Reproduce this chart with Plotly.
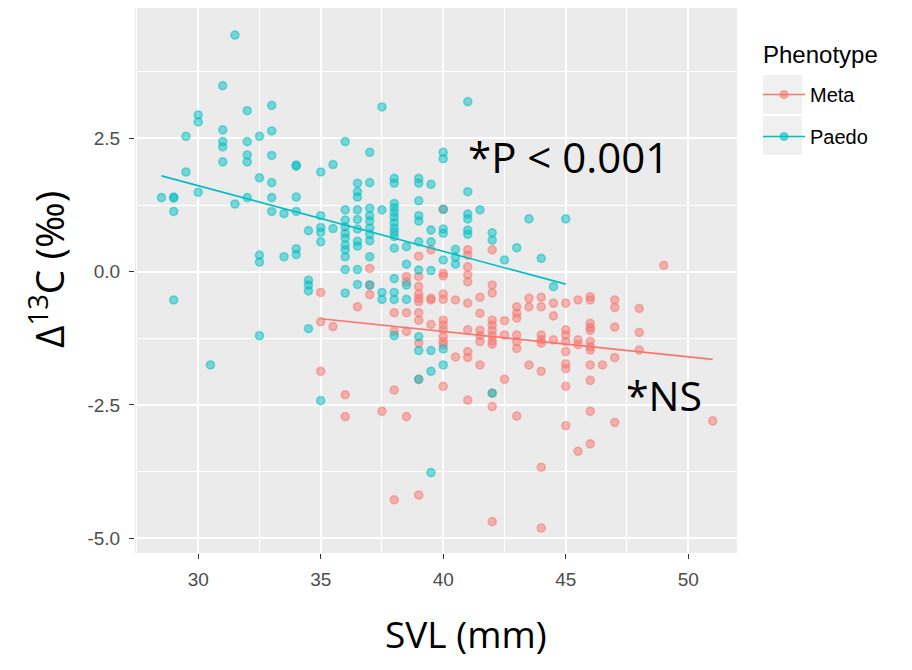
import numpy as np
import plotly.graph_objects as go

# ---- data ----
paedo_svl_cols = [28.5, 29, 29.5, 30, 30.5, 31, 31.5, 32, 32.5, 33, 33.5, 34, 34.5, 35, 35.5,
                  36, 36.5, 37, 37.5, 38, 38.5, 39, 39.5, 40, 40.5, 41, 41.5, 42, 42.5, 43,
                  43.5, 44, 44.5, 45]
paedo_d13c = [
    [1.39],
    [1.40, 1.38, 1.13, -0.53],
    [2.54, 1.87],
    [2.94, 2.81, 1.49],
    [-1.75],
    [3.49, 2.66, 2.44, 2.34, 2.06],
    [4.44, 1.27],
    [3.02, 2.44, 2.19, 2.06, 1.39],
    [2.54, 1.76, 0.31, 0.18, -1.20],
    [3.12, 2.64, 2.18, 1.67, 1.39, 1.13],
    [1.09, 0.28],
    [2.00, 1.98, 1.40, 1.13, 0.43, 0.32],
    [0.77, -0.16, -0.25, -0.36, -1.07],
    [1.87, 1.05, 0.83, 0.74, 0.56, -2.42],
    [2.01, 0.81],
    [2.44, 1.16, 0.97, 0.84, 0.72, 0.63, 0.50, 0.41, 0.28, 0.04, -0.40],
    [1.66, 1.50, 1.40, 1.16, 0.98, 0.80, 0.57, 0.48, 0.04, -0.24],
    [2.24, 1.67, 1.19, 1.05, 0.95, 0.82, 0.70, 0.58, 0.28, -0.25],
    [3.09, 1.16, -0.39, -0.52],
    [1.75, 1.66, 1.28, 1.20, 1.11, 1.02, 0.92, 0.82, 0.74, 0.66, 0.44, -0.13, -0.39, -0.52, -1.20],
    [0.47, 0.14, -0.25, -0.52],
    [1.75, 1.66, 1.33, 1.05, 0.95, 0.56, 0.03, -1.22, -1.48, -2.02],
    [1.64, 0.78, 0.56, 0.02, -1.48, -1.87, -3.77],
    [2.24, 2.12, 1.17, 0.80, 0.72, 0.22, -1.45, -1.75],
    [0.42, 0.27, 0.14],
    [3.19, 1.50, 1.08, 0.99, 0.78, 0.70],
    [1.16],
    [0.73, 0.59, -2.28],
    [0.22],
    [0.45],
    [0.99],
    [0.25],
    [-0.28],
    [0.99],
]

meta_svl_cols = [35, 35.5, 36, 36.5, 37, 37.5, 38, 38.5, 39, 39.5, 40, 40.5, 41, 41.5, 42,
                 42.5, 43, 43.5, 44, 44.5, 45, 45.5, 46, 46.5, 47, 48, 49, 51]
meta_d13c = [
    [-0.39, -0.94, -1.87],
    [-1.03],
    [-2.31, -2.72],
    [-0.66],
    [0.06, -0.25, -0.43],
    [-2.62],
    [-0.77, -1.12, -2.22, -4.28],
    [-0.09, -0.19, -0.77, -1.12, -2.72],
    [0.29, -0.09, -0.28, -0.42, -0.50, -0.56, -0.77, -0.91, -1.34, -2.02, -4.19],
    [0.41, -0.50, -0.53, -0.99],
    [1.17, -0.03, -0.08, -0.42, -0.52, -0.91, -1.00, -1.09, -1.22, -1.31, -1.37, -2.15],
    [-0.53, -1.60],
    [0.41, 0.31, 0.09, -0.06, -0.19, -0.59, -1.09, -1.50, -1.61, -2.41],
    [-0.48, -0.78, -1.10, -1.20, -1.31, -1.75],
    [0.41, -0.25, -0.40, -0.91, -1.00, -1.10, -1.20, -1.30, -1.36, -2.28, -2.53, -4.69],
    [-0.92, -1.19, -2.02],
    [-0.66, -0.78, -0.87, -1.19, -1.31, -1.44, -2.71],
    [-0.50, -0.66, -1.75],
    [-0.48, -0.66, -1.19, -1.28, -1.34, -1.87, -3.67, -4.81],
    [-0.59, -0.83, -1.28],
    [-0.59, -1.09, -1.19, -1.31, -1.50, -1.73, -1.82, -2.15, -2.89],
    [-0.53, -1.28, -1.37, -3.37],
    [-0.47, -0.53, -0.97, -1.05, -1.10, -1.31, -1.41, -1.47, -1.75, -2.04, -2.62, -3.23],
    [-1.75],
    [-0.53, -0.67, -1.04, -1.61, -2.83],
    [-0.69, -1.14, -1.47],
    [0.12],
    [-2.80],
]

x_ticks = [30, 35, 40, 45, 50]
y_ticks = [-5.0, -2.5, 0.0, 2.5]
y_ticklabels = ["-5.0", "-2.5", "0.0", "2.5"]


def expand(cols, vals):
    xs, ys = [], []
    for c, v in zip(cols, vals):
        xs += [c] * len(v)
        ys += v
    return np.array(xs, float), np.array(ys, float)


px_, py_ = expand(paedo_svl_cols, paedo_d13c)
mx_, my_ = expand(meta_svl_cols, meta_d13c)

META = "#F8766D"
PAEDO = "#00BFC4"


def rgba(hexc, a):
    h = hexc.lstrip("#")
    r, g, b = int(h[0:2], 16), int(h[2:4], 16), int(h[4:6], 16)
    return f"rgba({r},{g},{b},{a})"


fig = go.Figure()

for name, xs, ys, col in [("Meta", mx_, my_, META), ("Paedo", px_, py_, PAEDO)]:
    fig.add_trace(go.Scatter(
        x=xs, y=ys, mode="markers", showlegend=False, name=name,
        marker=dict(size=8, color=rgba(col, 0.5),
                    line=dict(color=rgba(col, 0.5), width=1.6)),
    ))

for name, xs, ys, col in [("Meta", mx_, my_, META), ("Paedo", px_, py_, PAEDO)]:
    slope, icpt = np.polyfit(xs, ys, 1)
    lx = np.array([xs.min(), xs.max()])
    fig.add_trace(go.Scatter(
        x=lx, y=slope * lx + icpt, mode="lines", showlegend=False,
        line=dict(color=col, width=1.6),
    ))

# legend entries
for name, col in [("Meta", META), ("Paedo", PAEDO)]:
    fig.add_trace(go.Scatter(
        x=[None], y=[None], mode="lines+markers", name=name, legendgroup=name,
        marker=dict(size=8, color=rgba(col, 0.6), line=dict(color=rgba(col, 0.6), width=1)),
        line=dict(color=col, width=1.6),
    ))

grid = dict(showgrid=True, gridcolor="white", gridwidth=2, zeroline=False,
            ticks="outside", ticklen=5, tickwidth=1.2, tickcolor="#333333",
            tickfont=dict(family="Liberation Sans, Arial", size=19, color="#4D4D4D"),
            showline=False)

fig.update_xaxes(range=[27.42, 51.99], tickvals=x_ticks, ticktext=[str(t) for t in x_ticks],
                 minor=dict(dtick=2.5, tick0=27.5, showgrid=True, gridcolor="white", gridwidth=1,
                            ticks=""),
                 ticklabelstandoff=4, **grid)
fig.update_yaxes(range=[-5.278, 4.947], tickvals=y_ticks, ticktext=y_ticklabels,
                 minor=dict(dtick=1.25, tick0=-3.75, showgrid=True, gridcolor="white", gridwidth=1,
                            ticks=""),
                 ticklabelstandoff=5, **grid)


def pxp(page_x):
    return (page_x - 135) / 602


def pyp(page_y):
    return (553 - page_y) / 545


key_boxes = [
    dict(type="rect", xref="paper", yref="paper", x0=pxp(763), x1=pxp(802), y0=pyp(114), y1=pyp(75),
         fillcolor="#F0F0F0", line=dict(width=0), layer="below"),
    dict(type="rect", xref="paper", yref="paper", x0=pxp(763), x1=pxp(802), y0=pyp(155), y1=pyp(116),
         fillcolor="#F0F0F0", line=dict(width=0), layer="below"),
]

fig.update_layout(
    width=912, height=670,
    margin=dict(l=127, r=183, t=0, b=125),
    paper_bgcolor="white", plot_bgcolor="#EBEBEB",
    shapes=key_boxes,
    legend=dict(x=pxp(758), y=pyp(75), xanchor="left", yanchor="top",
                font=dict(family="Liberation Sans, Arial", size=20, color="black"),
                itemwidth=42,
                tracegroupgap=13, bgcolor="rgba(0,0,0,0)"),
    annotations=[
        dict(text="Phenotype", xref="paper", yref="paper", x=pxp(761), y=pyp(55),
             xanchor="left", yanchor="middle", showarrow=False,
             font=dict(family="Liberation Sans, Arial", size=24, color="black")),
        dict(text="SVL (mm)", xref="paper", yref="paper", x=pxp(466), y=pyp(633),
             xanchor="center", yanchor="middle",
             showarrow=False, font=dict(family="Open Sans", size=37, color="black")),
        dict(text="Δ<sup>13</sup>C (‰)", xref="paper", yref="paper", x=pxp(47), y=pyp(269),
             xanchor="center", yanchor="middle",
             textangle=-90, showarrow=False, font=dict(family="Open Sans", size=39, color="black")),
        dict(text="*P < 0.001", xref="paper", yref="paper", x=pxp(568), y=pyp(157),
             xanchor="center", yanchor="middle",
             showarrow=False, font=dict(family="Open Sans", size=42, color="black")),
        dict(text="*NS", xref="paper", yref="paper", x=pxp(664), y=pyp(395),
             xanchor="center", yanchor="middle",
             showarrow=False, font=dict(family="Open Sans", size=41, color="black")),
    ],
)

fig.write_html("out.html")
